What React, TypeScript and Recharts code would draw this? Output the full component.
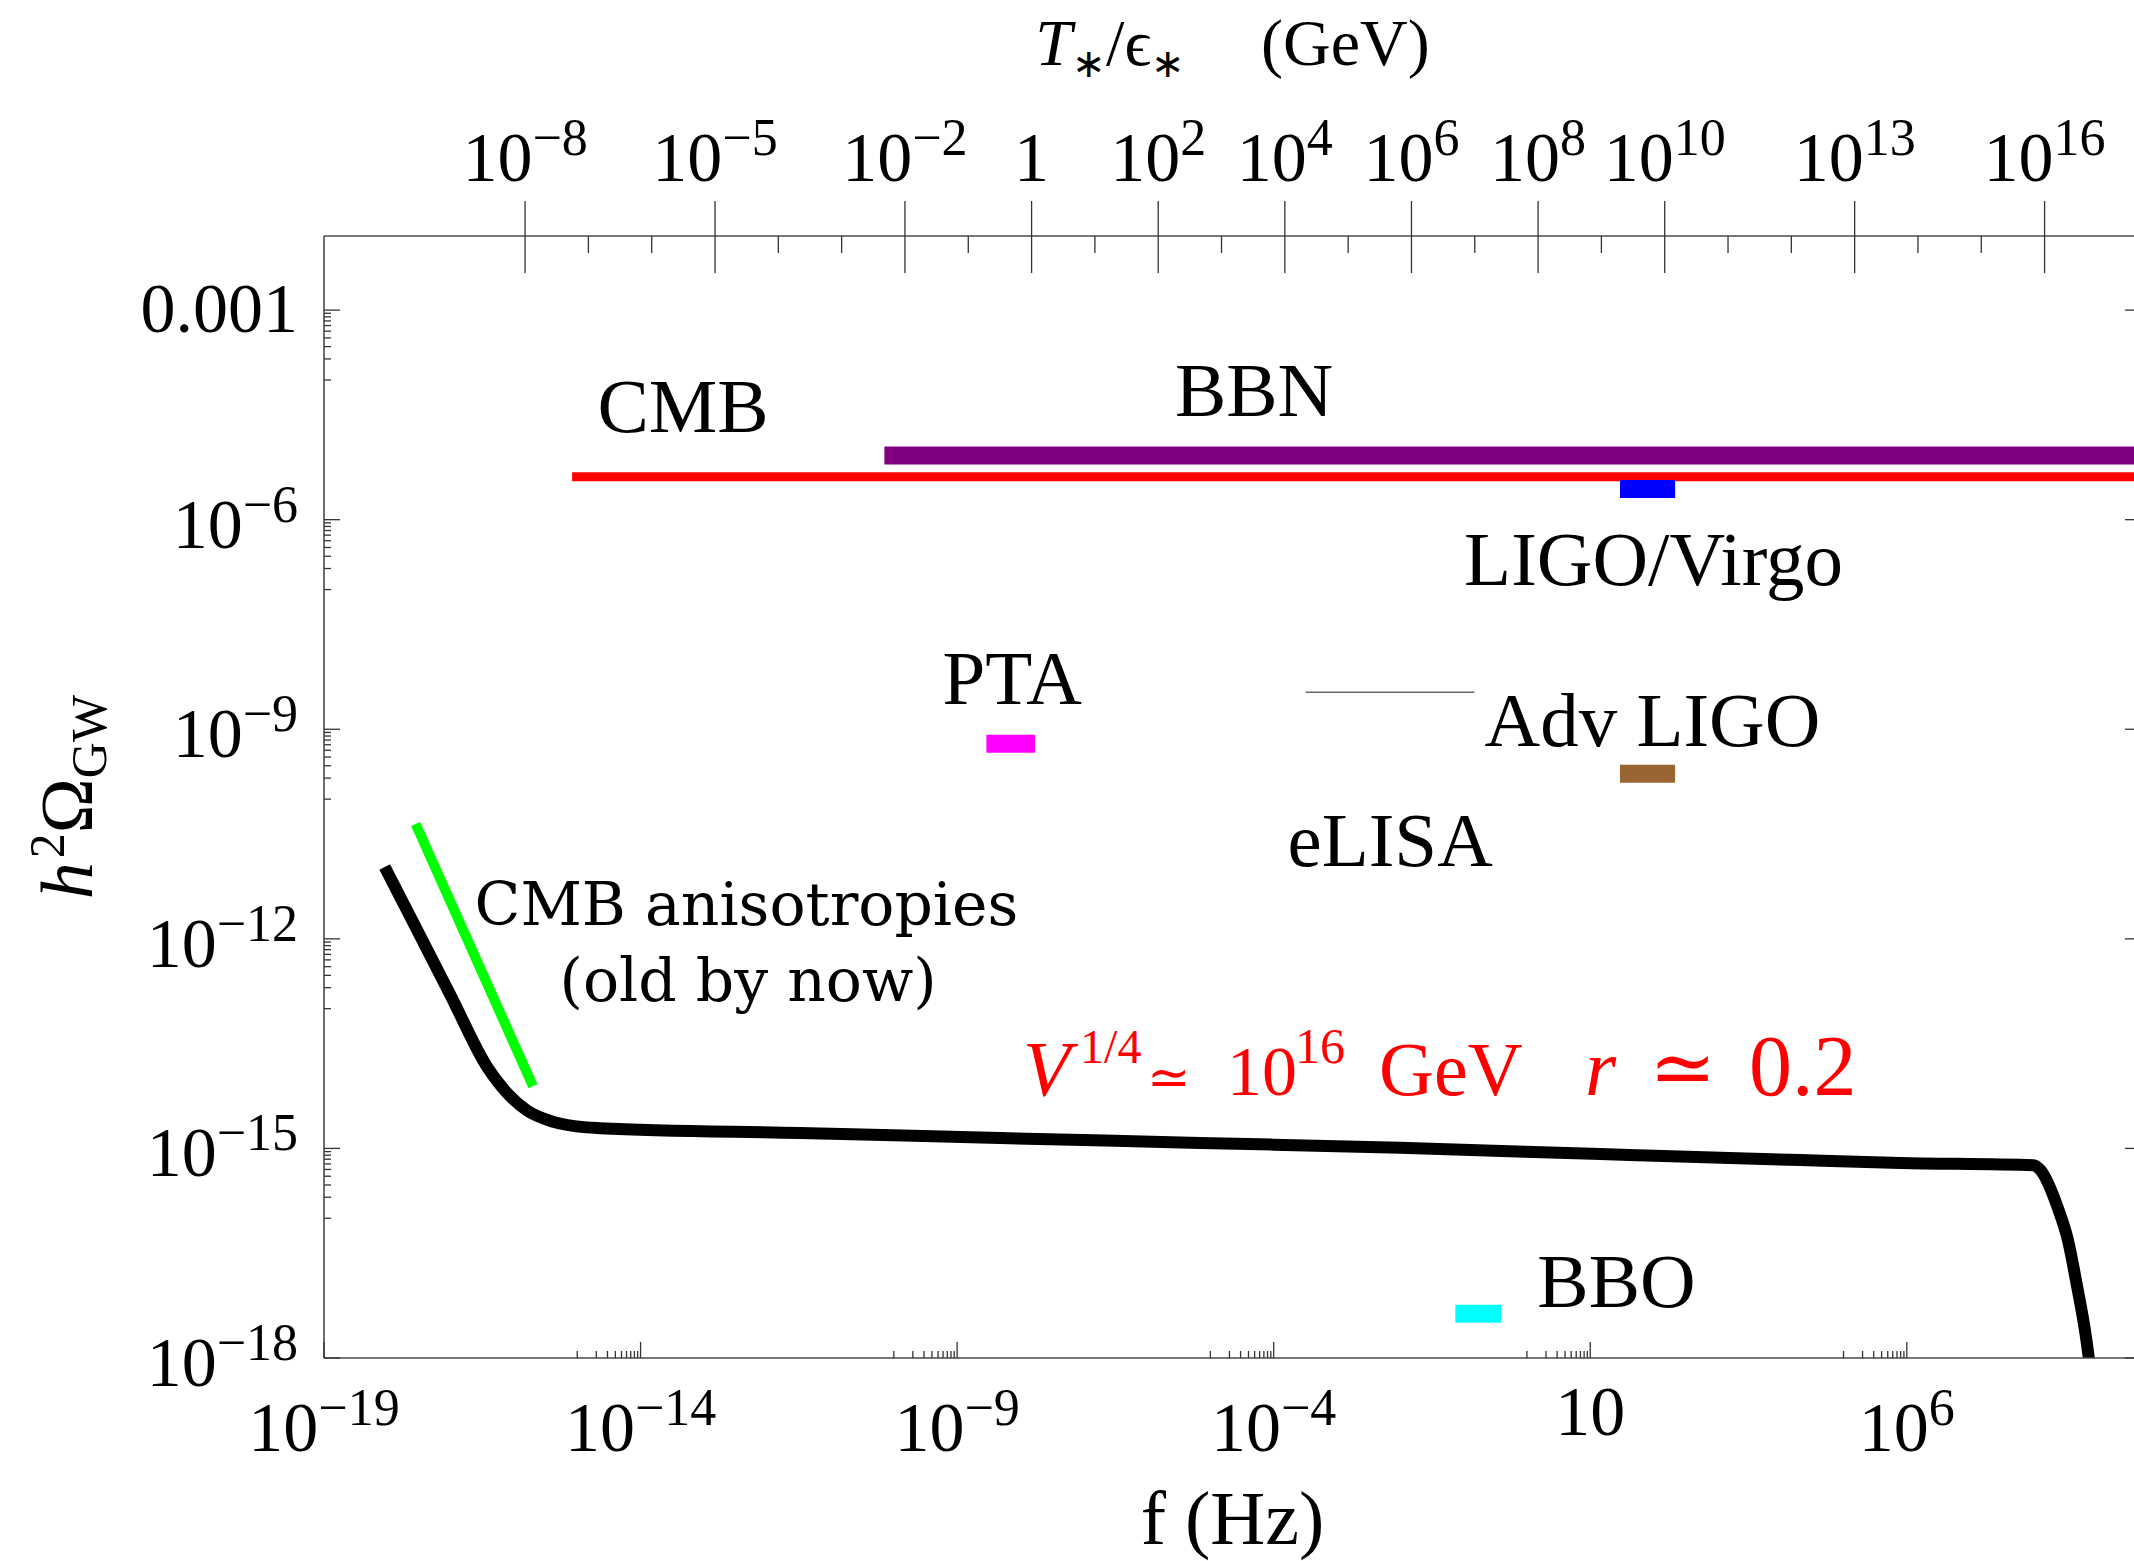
import React from "react";
import { LineChart, Line, XAxis, YAxis, ReferenceDot } from "recharts";

// ---------------- data ----------------
const FREQ_DOMAIN: [number, number] = [1e-19, 5.0e9];
const OMEGA_DOMAIN: [number, number] = [1e-18, 1.15e-2];
const HZ_PER_GEV = 1.5e-8; // f ~ 1.5e-8 Hz * (T*/eps*) / GeV (top axis)

const freqMajorExps = [-19, -14, -9, -4, 1, 6];
const omegaMajorExps = [-3, -6, -9, -12, -15, -18];
const tempMajorExps = [-8, -5, -2, 0, 2, 4, 6, 8, 10, 13, 16];
const tempMinorExps = [-7, -6, -4, -3, -1, 1, 3, 5, 7, 9, 11, 12, 14, 15];

// inflationary GW spectrum (black)
const spectrumFreq = [9.1e-19, 2.5e-18, 1.0e-17, 3.8e-17, 7.8e-17, 1.6e-16, 4.2e-16, 1.4e-15, 2.3e-15, 3.3e-12, 4.8e-9, 6.9e-6, 1.0e-2, 14.5, 2.1e4, 7.9e5, 1.0e8, 1.29e8, 2.4e8, 3.5e8, 4.9e8, 6.6e8, 7.9e8, 8.9e8];
const spectrumOmega = [1.07e-11, 1.8e-12, 1.55e-13, 1.45e-14, 6.2e-15, 3.5e-15, 2.4e-15, 2.0e-15, 1.95e-15, 1.66e-15, 1.41e-15, 1.2e-15, 1.02e-15, 8.3e-16, 6.8e-16, 6.2e-16, 5.75e-16, 4.9e-16, 1.45e-16, 4.9e-17, 1.05e-17, 2.3e-18, 6.8e-19, 2.5e-19];

// CMB anisotropies (green)
const anisoFreq = [2.8e-18, 2.0e-16];
const anisoOmega = [4.4e-11, 7.8e-15];

// experimental bounds / sensitivities
const boundNames = ["CMB", "BBN", "LIGO/Virgo", "PTA", "Adv LIGO", "BBO", "eLISA"];
const boundFmin = [8.3e-16, 7.1e-11, 29.5, 2.9e-9, 29.5, 0.074, 3.2e-4];
const boundFmax = [1e10, 1e10, 219, 1.7e-8, 219, 0.39, 0.148];
const boundOmega = [4.1e-6, 8.3e-6, 2.75e-6, 6.2e-10, 2.3e-10, 4.3e-18, 3.4e-9];

// text annotations
const labelTexts = ["CMB", "BBN", "LIGO/Virgo", "PTA", "Adv LIGO", "eLISA", "BBO"];
const labelFreq = [4.7e-14, 4.9e-5, 100, 7.4e-9, 96, 6.9e-3, 26];
const labelOmega = [1.8e-5, 3.0e-5, 1.15e-7, 2.3e-9, 5.8e-10, 1.1e-11, 5.4e-18];

const noteTexts = ["CMB anisotropies", "(old by now)"];
const noteFreq = [4.7e-13, 5.0e-13];
const noteOmega = [1.6e-12, 1.3e-13];

const formulaFreq = 1.1e-8;
const formulaOmega = 5.75e-15;

// top-axis anchor range (T*/eps* in GeV), only used to bind the top axis
const tempAxisAnchor = [1e-8, 1e16];

// ---------------- styles ----------------
const boundStyle: Record<string, { color: string; width: number }> = {
  CMB: { color: "#ff0000", width: 9 },
  BBN: { color: "#800080", width: 18 },
  "LIGO/Virgo": { color: "#0000ff", width: 18 },
  PTA: { color: "#ff00ff", width: 18 },
  "Adv LIGO": { color: "#996633", width: 18 },
  BBO: { color: "#00ffff", width: 18 },
  eLISA: { color: "#666666", width: 1.5 },
};

const SERIF = "'Liberation Serif', 'Times New Roman', Times, serif";
const WIDE_SERIF = "'DejaVu Serif', serif";
const AXIS_COLOR = "#4a4a4a";
const TICK_COLOR = "#333333";

const CHART_W = 2160;
const CHART_H = 1561;
const MARGIN = { top: 176, right: 9, bottom: 143, left: 224 };
const PLOT = { left: 324, top: 236, right: 2141, bottom: 1358 };

// ---------------- helpers ----------------
const near = (v: number, e: number) => Math.abs(Math.log10(v) - e) < 1e-6;
const isMajor = (v: number, exps: number[]) => exps.some((e) => near(v, e));
const expOf = (v: number) => Math.round(Math.log10(v));
const supText = (e: number) => (e < 0 ? "\u2212" + Math.abs(e) : String(e));

const minorTicksFor = (exps: number[], lo: number, hi: number) => {
  const out: number[] = [];
  exps.forEach((e) => {
    for (let m = 1; m <= 9; m++) {
      const v = m * Math.pow(10, e - 1);
      if (v >= lo && v <= hi) out.push(v);
    }
  });
  return out;
};

const freqTicks = [
  ...freqMajorExps.map((e) => Math.pow(10, e)),
  ...minorTicksFor(freqMajorExps, FREQ_DOMAIN[0], FREQ_DOMAIN[1]),
];
const omegaTicks = [
  ...omegaMajorExps.map((e) => Math.pow(10, e)),
  ...minorTicksFor(omegaMajorExps, OMEGA_DOMAIN[0], OMEGA_DOMAIN[1]),
];
const tempTicks = [...tempMajorExps, ...tempMinorExps].map((e) => Math.pow(10, e));
const TEMP_DOMAIN: [number, number] = [FREQ_DOMAIN[0] / HZ_PER_GEV, FREQ_DOMAIN[1] / HZ_PER_GEV];

const toPoints = (fs: number[], os: number[]) => fs.map((f, i) => ({ f, o: os[i] }));
const spectrum = toPoints(spectrumFreq, spectrumOmega);
const aniso = toPoints(anisoFreq, anisoOmega);
const tempAnchor = tempAxisAnchor.map((t) => ({ f: t, o: 1e-10 }));
const bounds = boundNames.map((name, i) => ({
  name,
  data: [
    { f: boundFmin[i], o: boundOmega[i] },
    { f: boundFmax[i], o: boundOmega[i] },
  ],
}));

function PowText(props: { x: number; y: number; base: string; sup?: string; anchor: "start" | "middle" | "end" }) {
  const { x, y, base, sup, anchor } = props;
  return (
    <text x={x} y={y} textAnchor={anchor} fontFamily={SERIF} fontSize={70} fill="#000">
      {base}
      {sup !== undefined && (
        <tspan dy={-26} fontSize={52}>
          {sup}
        </tspan>
      )}
    </text>
  );
}

// ---------------- tick renderers ----------------
const BottomTick = (p: any) => {
  const x = p.x;
  const v = p.payload.value;
  const major = isMajor(v, freqMajorExps);
  const e = expOf(v);
  return (
    <g>
      <line x1={x} x2={x} y1={PLOT.bottom} y2={PLOT.bottom - (major ? 16 : 7)} stroke={TICK_COLOR} strokeWidth={1.3} />
      {major &&
        (e === 1 ? (
          <PowText x={x} y={PLOT.bottom + 77} base="10" anchor="middle" />
        ) : (
          <PowText x={x} y={PLOT.bottom + 93} base="10" sup={supText(e)} anchor="middle" />
        ))}
    </g>
  );
};

const LeftTick = (p: any) => {
  const y = p.y;
  const v = p.payload.value;
  const major = isMajor(v, omegaMajorExps);
  const e = expOf(v);
  return (
    <g>
      <line x1={PLOT.left} x2={PLOT.left + (major ? 16 : 7)} y1={y} y2={y} stroke={TICK_COLOR} strokeWidth={1.3} />
      {major &&
        (e === -3 ? (
          <text x={298} y={y + 22} textAnchor="end" fontFamily={SERIF} fontSize={70} fill="#000">
            0.001
          </text>
        ) : (
          <PowText x={298} y={y + 28} base="10" sup={supText(e)} anchor="end" />
        ))}
    </g>
  );
};

const RightTick = (p: any) => {
  const y = p.y;
  const v = p.payload.value;
  const major = isMajor(v, omegaMajorExps);
  return <line x1={PLOT.right} x2={PLOT.right - (major ? 16 : 7)} y1={y} y2={y} stroke={TICK_COLOR} strokeWidth={1.3} />;
};

const TopTick = (p: any) => {
  const x = p.x;
  const v = p.payload.value;
  const major = isMajor(v, tempMajorExps);
  const e = expOf(v);
  return (
    <g>
      <line
        x1={x}
        x2={x}
        y1={major ? PLOT.top - 35 : PLOT.top}
        y2={PLOT.top + (major ? 37 : 17)}
        stroke={TICK_COLOR}
        strokeWidth={1.3}
      />
      {major &&
        (e === 0 ? (
          <PowText x={x} y={PLOT.top - 55} base="1" anchor="middle" />
        ) : (
          <PowText x={x} y={PLOT.top - 55} base="10" sup={supText(e)} anchor="middle" />
        ))}
    </g>
  );
};

// ---------------- axis titles ----------------
const BottomTitle = (p: any) => {
  const vb = p.viewBox;
  return (
    <text x={vb.x + vb.width / 2} y={vb.y + 186} textAnchor="middle" fontFamily={SERIF} fontSize={76} fill="#000">
      f (Hz)
    </text>
  );
};

const TopTitle = (p: any) => {
  const vb = p.viewBox;
  return (
    <text x={vb.x + vb.width / 2} y={vb.y - 111} textAnchor="middle" fontFamily={SERIF} fontSize={66} fill="#000">
      <tspan fontStyle="italic">T</tspan>
      <tspan dy={12} fontSize={40}>
        {"\u2217"}
      </tspan>
      <tspan dy={-12}>/</tspan>
      <tspan>{"\u03f5"}</tspan>
      <tspan dy={12} fontSize={40}>
        {"\u2217"}
      </tspan>
      <tspan dy={-12} dx={76}>
        (GeV)
      </tspan>
    </text>
  );
};

const LeftTitle = (p: any) => {
  const vb = p.viewBox;
  const cx = vb.x - 132;
  const cy = vb.y + vb.height / 2;
  return (
    <text transform={`translate(${cx}, ${cy}) rotate(-90)`} textAnchor="middle" fontFamily={SERIF} fontSize={74} fill="#000">
      <tspan fontStyle="italic">h</tspan>
      <tspan dy={-28} dx={4} fontSize={50}>
        2
      </tspan>
      <tspan dy={28}>{"\u03a9"}</tspan>
      <tspan dy={14} fontSize={50}>
        GW
      </tspan>
    </text>
  );
};

// ---------------- annotation shapes ----------------
const makeLabelShape = (text: string, family: string, size: number) => (p: any) =>
  (
    <text x={p.cx} y={p.cy} textAnchor="middle" fontFamily={family} fontSize={size} fill="#000">
      {text}
    </text>
  );

const FormulaShape = (p: any) => {
  const x = p.cx;
  const y = p.cy;
  return (
    <text fontFamily={SERIF} fill="#ff0000" y={y}>
      <tspan x={x} y={y} fontSize={78} fontStyle="italic">
        V
      </tspan>
      <tspan x={x + 57} y={y - 32} fontSize={48}>
        1/4
      </tspan>
      <tspan x={x + 124} y={y} fontSize={52} fontFamily={WIDE_SERIF}>
        {"\u2243"}
      </tspan>
      <tspan x={x + 204} y={y} fontSize={70}>
        10
      </tspan>
      <tspan x={x + 272} y={y - 32} fontSize={50}>
        16
      </tspan>
      <tspan x={x + 356} y={y} fontSize={76}>
        GeV
      </tspan>
      <tspan x={x + 562} y={y} fontSize={80} fontStyle="italic">
        r
      </tspan>
      <tspan x={x + 626} y={y} fontSize={80} fontFamily={WIDE_SERIF}>
        {"\u2243"}
      </tspan>
      <tspan x={x + 726} y={y} fontSize={86}>
        0.2
      </tspan>
    </text>
  );
};

export default function App() {
  return (
    <div
      style={{
        position: "fixed",
        left: 0,
        top: 0,
        width: 2134,
        height: 1561,
        overflow: "hidden",
        background: "#fff",
      }}
    >
      <LineChart width={CHART_W} height={CHART_H} margin={MARGIN}>
        <XAxis
          xAxisId={0}
          dataKey="f"
          type="number"
          scale="log"
          domain={FREQ_DOMAIN}
          allowDataOverflow
          ticks={freqTicks}
          interval={0}
          tick={BottomTick}
          tickLine={false}
          height={60}
          axisLine={{ stroke: AXIS_COLOR, strokeWidth: 1.6 }}
          label={BottomTitle}
        />
        <XAxis
          xAxisId="T"
          dataKey="f"
          orientation="top"
          type="number"
          scale="log"
          domain={TEMP_DOMAIN}
          allowDataOverflow
          ticks={tempTicks}
          interval={0}
          tick={TopTick}
          tickLine={false}
          height={60}
          axisLine={{ stroke: AXIS_COLOR, strokeWidth: 1.6 }}
          label={TopTitle}
        />
        <YAxis
          yAxisId={0}
          type="number"
          scale="log"
          domain={OMEGA_DOMAIN}
          allowDataOverflow
          ticks={omegaTicks}
          interval={0}
          tick={LeftTick}
          tickLine={false}
          width={100}
          axisLine={{ stroke: AXIS_COLOR, strokeWidth: 1.6 }}
          label={LeftTitle}
        />
        <YAxis
          yAxisId="right"
          orientation="right"
          type="number"
          scale="log"
          domain={OMEGA_DOMAIN}
          allowDataOverflow
          ticks={omegaTicks}
          interval={0}
          tick={RightTick}
          tickLine={false}
          width={10}
          axisLine={{ stroke: AXIS_COLOR, strokeWidth: 1.6 }}
        />

        {/* invisible series binding the top (temperature) axis */}
        <Line
          xAxisId="T"
          yAxisId={0}
          data={tempAnchor}
          dataKey="o"
          stroke="none"
          strokeWidth={0}
          dot={false}
          activeDot={false}
          legendType="none"
          isAnimationActive={false}
        />

        {bounds.map((b) => (
          <Line
            key={b.name}
            xAxisId={0}
            yAxisId={0}
            data={b.data}
            dataKey="o"
            type="linear"
            stroke={boundStyle[b.name].color}
            strokeWidth={boundStyle[b.name].width}
            dot={false}
            activeDot={false}
            isAnimationActive={false}
          />
        ))}

        <Line
          xAxisId={0}
          yAxisId={0}
          data={aniso}
          dataKey="o"
          type="linear"
          stroke="#00ff00"
          strokeWidth={10}
          dot={false}
          activeDot={false}
          isAnimationActive={false}
        />
        <Line
          xAxisId={0}
          yAxisId={0}
          data={spectrum}
          dataKey="o"
          type="monotone"
          stroke="#000000"
          strokeWidth={12}
          strokeLinejoin="round"
          dot={false}
          activeDot={false}
          isAnimationActive={false}
        />

        {labelTexts.map((t, i) => (
          <ReferenceDot
            key={t}
            xAxisId={0}
            yAxisId={0}
            x={labelFreq[i]}
            y={labelOmega[i]}
            r={0}
            ifOverflow="visible"
            shape={makeLabelShape(t, SERIF, 77)}
          />
        ))}
        {noteTexts.map((t, i) => (
          <ReferenceDot
            key={t}
            xAxisId={0}
            yAxisId={0}
            x={noteFreq[i]}
            y={noteOmega[i]}
            r={0}
            ifOverflow="visible"
            shape={makeLabelShape(t, WIDE_SERIF, 60)}
          />
        ))}
        <ReferenceDot
          xAxisId={0}
          yAxisId={0}
          x={formulaFreq}
          y={formulaOmega}
          r={0}
          ifOverflow="visible"
          shape={FormulaShape}
        />
      </LineChart>
    </div>
  );
}
